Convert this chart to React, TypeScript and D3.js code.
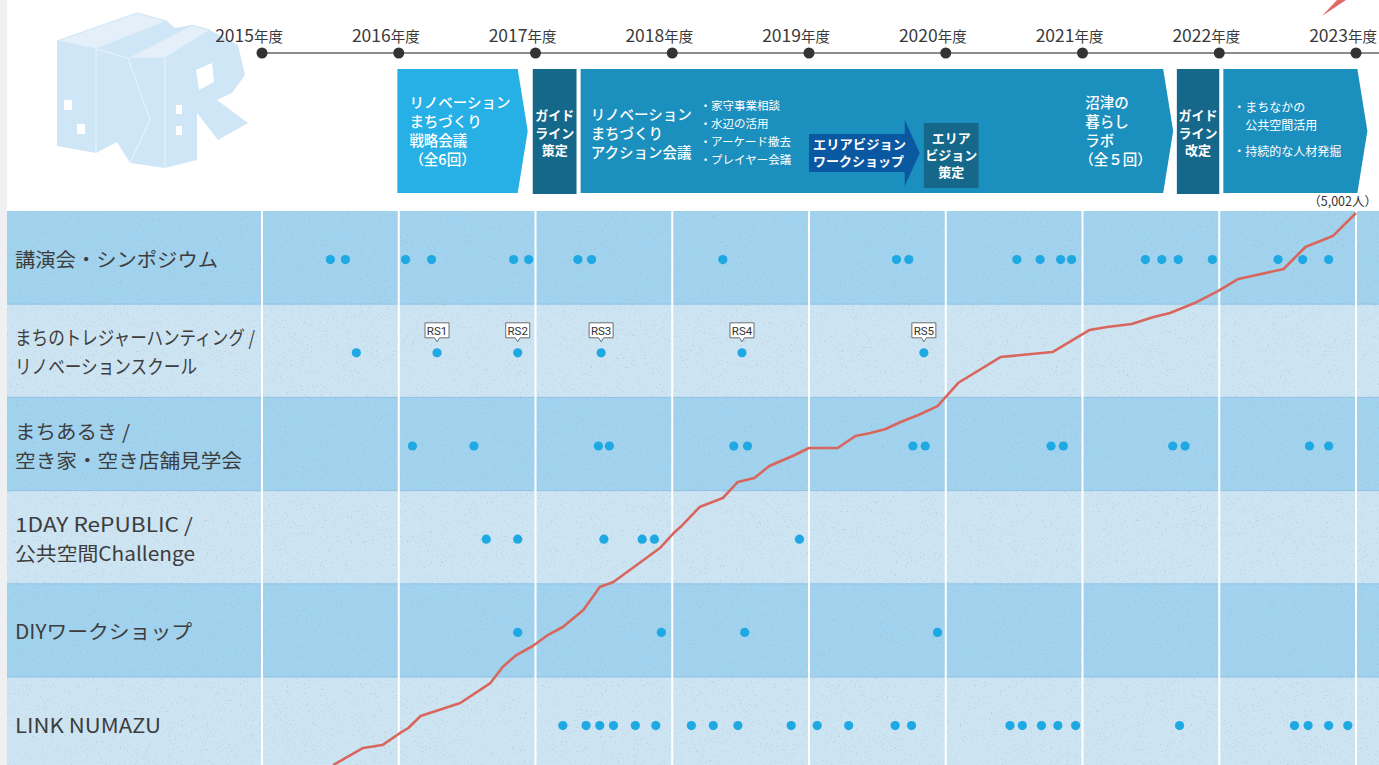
import React from "react";
import * as d3 from "d3";

const W = 1379;
const H = 765;

// ---------- data ----------
const years = [2015, 2016, 2017, 2018, 2019, 2020, 2021, 2022, 2023];
const yearSuffix = "年度";

const categoryLines: string[][] = [
  ["講演会・シンポジウム"],
  ["まちのトレジャーハンティング /", "リノベーションスクール"],
  ["まちあるき /", "空き家・空き店舗見学会"],
  ["1DAY RePUBLIC /", "公共空間Challenge"],
  ["DIYワークショップ"],
  ["LINK NUMAZU"],
];
const categories = categoryLines.map((l) => l.join(""));

// event dates as fractional fiscal years
const lectureEvents = [2015.50, 2015.61, 2016.05, 2016.24, 2016.84, 2016.95, 2017.31, 2017.41, 2018.37, 2019.64, 2019.73, 2020.52, 2020.69, 2020.84, 2020.92, 2021.46, 2021.58, 2021.70, 2021.95, 2022.43, 2022.61, 2022.80];
const schoolEvents = [2015.69, 2016.28, 2016.87, 2017.48, 2018.51, 2019.84];
const schoolTags = ["", "RS1", "RS2", "RS3", "RS4", "RS5"];
const walkEvents = [2016.10, 2016.55, 2017.46, 2017.54, 2018.45, 2018.55, 2019.76, 2019.85, 2020.77, 2020.86, 2021.66, 2021.75, 2022.66, 2022.80];
const republicEvents = [2016.64, 2016.87, 2017.50, 2017.78, 2017.87, 2018.93];
const diyEvents = [2016.87, 2017.92, 2018.53, 2019.94];
const linkEvents = [2017.20, 2017.37, 2017.47, 2017.57, 2017.73, 2017.88, 2018.14, 2018.30, 2018.48, 2018.87, 2019.06, 2019.29, 2019.63, 2019.75, 2020.47, 2020.56, 2020.70, 2020.82, 2020.95, 2021.71, 2022.55, 2022.65, 2022.80, 2022.94];
const eventSeries = [lectureEvents, schoolEvents, walkEvents, republicEvents, diyEvents, linkEvents];

// cumulative participants (red line)
const cumulativeDates = [2015.52, 2015.74, 2015.88, 2016.01, 2016.07, 2016.16, 2016.45, 2016.67, 2016.76, 2016.86, 2016.98, 2017.09, 2017.20, 2017.35, 2017.47, 2017.57, 2017.91, 2018.01, 2018.06, 2018.20, 2018.37, 2018.48, 2018.60, 2018.71, 2018.88, 2019.00, 2019.21, 2019.34, 2019.45, 2019.56, 2019.67, 2019.80, 2019.94, 2020.09, 2020.40, 2020.78, 2021.05, 2021.18, 2021.36, 2021.52, 2021.64, 2021.82, 2021.99, 2022.14, 2022.47, 2022.63, 2022.83, 2023.00];
const cumulativeValues = [667, 801, 824, 919, 958, 1052, 1154, 1311, 1437, 1531, 1602, 1688, 1751, 1885, 2065, 2104, 2371, 2489, 2536, 2693, 2764, 2890, 2921, 3015, 3094, 3157, 3157, 3251, 3274, 3306, 3361, 3416, 3486, 3667, 3871, 3910, 4083, 4107, 4130, 4185, 4217, 4295, 4389, 4484, 4562, 4735, 4821, 5002];
const totalLabel = "（5,002人）";

// phases (header)
const phaseStarts = [2015.99, 2016.98, 2017.33, 2021.69, 2022.03];
const phaseEnds = [2016.87, 2017.30, 2021.59, 2022.00, 2023.01];
const phaseArrow = [true, false, true, false, true];
const phaseKinds = ["bright", "dark", "mid", "dark", "mid"];

const strategyLines = ["リノベーション", "まちづくり", "戦略会議", "（全6回）"];
const guidelineLines = ["ガイド", "ライン", "策定"];
const actionLines = ["リノベーション", "まちづくり", "アクション会議"];
const actionBullets = ["・家守事業相談", "・水辺の活用", "・アーケード撤去", "・プレイヤー会議"];
const workshopLines = ["エリアビジョン", "ワークショップ"];
const visionLines = ["エリア", "ビジョン", "策定"];
const laboLines = ["沼津の", "暮らし", "ラボ", "（全５回）"];
const revisionLines = ["ガイド", "ライン", "改定"];
const futureBullets = ["・まちなかの", "　公共空間活用", "・持続的な人材発掘"];
const workshopSpan = [2019.0, 2019.70, 2019.81];
const visionSpan = [2019.84, 2020.24];

// ---------- component ----------
const FONT = "'Noto Sans CJK JP', 'Noto Sans', sans-serif";
// rendered widths of the row label lines (layout)
const labelWidths: number[][] = [[203], [240, 182], [115, 227], [178, 180], [177], [146]];

export default function App() {
  const x = d3.scaleLinear().domain([2015, 2023]).range([262, 1356]);
  const gridTop = 211;
  const rowH = 93.2;
  const band = d3
    .scaleBand<string>()
    .domain(categories)
    .range([gridTop, gridTop + rowH * categories.length])
    .padding(0);
  const yCum = d3.scaleLinear().domain([0, 5002]).range([850, 213]);

  const line = d3
    .line<number>()
    .x((_, i) => x(cumulativeDates[i]))
    .y((d) => yCum(d));

  const colors: Record<string, string> = {
    bright: "#27b0e6",
    mid: "#1b8fbe",
    dark: "#15688a",
  };
  const top = 69;
  const bottom = 193;
  const mid = (top + bottom) / 2;

  const phasePath = (i: number) => {
    const x0 = x(phaseStarts[i]);
    const x1 = x(phaseEnds[i]);
    if (!phaseArrow[i]) return `M${x0},${top}H${x1}V${bottom + 1}H${x0}Z`;
    return `M${x0},${top}H${x1}L${x1 + 10},${mid}L${x1},${bottom}H${x0}Z`;
  };

  const wsX0 = x(workshopSpan[0]);
  const wsX1 = x(workshopSpan[1]);
  const wsTip = x(workshopSpan[2]);
  const workshopPath = `M${wsX0},134H${wsX1}V120L${wsTip},153L${wsX1},186V172H${wsX0}Z`;

  const dotColor = "#1ea9e2";

  return (
    <svg
      width={W}
      height={H}
      style={{ position: "absolute", left: 0, top: 0, background: "#fff" }}
      fontFamily={FONT}
    >
      <defs>
        <filter id="grain" x="0" y="0" width="100%" height="100%">
          <feTurbulence type="fractalNoise" baseFrequency="0.55" numOctaves="3" seed="7" />
          <feColorMatrix
            type="matrix"
            values="0 0 0 0 0.35  0 0 0 0 0.38  0 0 0 0 0.42  4.5 0 0 0 -2.75"
          />
        </filter>
      </defs>

      {/* left textured strip */}
      <rect x={0} y={0} width={7} height={H} fill="#eef0f1" />
      <rect x={7} y={0} width={W - 7} height={gridTop} fill="#ffffff" />

      {/* logo */}
      <g>
        <path
          d="M57,41L137,13L167,21L175,28L192,25L210,30L238,45L245,75L232,93L217,100L248,123L218,140L197,113L197,160L165,168L130,163L117,142L96,153L57,146Z"
          fill="#cfe6f7"
        />
        <path d="M57,41L137,13L167,21L96,49Z" fill="#e3f0fa" stroke="#cfe6f7" strokeWidth={1} />
        <path d="M128,58L192,25L210,30L165,58Z" fill="#e3f0fa" stroke="#cfe6f7" strokeWidth={1} />
        <path d="M96,49L96,153" stroke="#e6f2fb" strokeWidth={1.2} />
        <path d="M165,58L165,168" stroke="#e6f2fb" strokeWidth={1.2} />
        <path d="M96,49L128,58L150,120L130,163" fill="none" stroke="#e6f2fb" strokeWidth={1.2} />
        <path d="M196,70L212,63L214,82L199,90Z" fill="#ffffff" />
        <rect x={64} y={100} width={8} height={10} fill="#ffffff" />
        <rect x={77} y={124} width={8} height={10} fill="#ffffff" />
        <rect x={176} y={105} width={6} height={9} fill="#ffffff" />
        <rect x={176} y={126} width={6} height={9} fill="#ffffff" />
      </g>

      {/* rows */}
      {categories.map((c, i) => (
        <rect
          key={c}
          x={7}
          y={band(c)}
          width={W - 7}
          height={band.bandwidth()}
          fill={i % 2 === 0 ? "#a1d2ee" : "#cde4f3"}
        />
      ))}
      {categories.slice(1).map((c) => (
        <line key={c} x1={7} x2={W} y1={band(c)} y2={band(c)} stroke="#8cc3e6" strokeWidth={1} />
      ))}
      <rect x={7} y={gridTop} width={W - 7} height={H - gridTop} filter="url(#grain)" opacity={0.35} />

      {/* year grid lines */}
      {years.map((yr) => (
        <line key={yr} x1={x(yr)} x2={x(yr)} y1={gridTop} y2={H} stroke="#ffffff" strokeWidth={2} />
      ))}

      {/* row labels */}
      {categoryLines.map((lines, i) => {
        const cy = band(categories[i])! + band.bandwidth() / 2 + 2;
        const lh = 29;
        return (
          <g key={i}>
            {lines.map((t, j) => (
              <text
                key={j}
                x={15}
                y={cy + 7 + (j - (lines.length - 1) / 2) * lh}
                fontSize={19.5}
                fill="#3d3d3d"
                textLength={labelWidths[i][j]}
                lengthAdjust="spacingAndGlyphs"
              >
                {t}
              </text>
            ))}
          </g>
        );
      })}

      {/* cumulative line */}
      <path d={line(cumulativeValues) || ""} fill="none" stroke="#d9665d" strokeWidth={2.6} strokeLinejoin="round" />

      {/* event dots */}
      {eventSeries.map((evs, i) => {
        const cy = band(categories[i])! + band.bandwidth() / 2 + 2;
        return (
          <g key={i}>
            {evs.map((d, j) => (
              <circle key={j} cx={x(d)} cy={cy} r={4.6} fill={dotColor} />
            ))}
          </g>
        );
      })}

      {/* RS tags */}
      {schoolEvents.map((d, j) => {
        const tag = schoolTags[j];
        if (!tag) return null;
        const cx = x(d);
        const cy = band(categories[1])! + band.bandwidth() / 2 + 2;
        const bw = 24;
        const bh = 15;
        const by = cy - 30;
        return (
          <g key={j}>
            <path
              d={`M${cx - bw / 2},${by}H${cx + bw / 2}V${by + bh}H${cx + 2.5}L${cx},${by + bh + 4}L${cx - 2.5},${by + bh}H${cx - bw / 2}Z`}
              fill="#ffffff"
              stroke="#6d6d6d"
              strokeWidth={1}
            />
            <text x={cx} y={by + 12} fontSize={11.5} textAnchor="middle" fill="#333" fontFamily="'Liberation Sans Narrow', 'Roboto', sans-serif">
              {tag}
            </text>
          </g>
        );
      })}

      <text x={1377} y={206} fontSize={12.5} textAnchor="end" fill="#333">
        {totalLabel}
      </text>

      {/* header timeline */}
      <line x1={x(2015)} x2={W} y1={53} y2={53} stroke="#666" strokeWidth={1.6} />
      {years.map((yr) => (
        <g key={yr}>
          <circle cx={x(yr)} cy={53} r={5.5} fill="#333" />
          <text x={x(yr) + 21} y={42} textAnchor="end" fill="#3a3a3a">
            <tspan fontSize={17.5}>{yr}</tspan>
            <tspan fontSize={14.5}>{yearSuffix}</tspan>
          </text>
        </g>
      ))}

      {/* red arrow tip at top right */}
      <path d="M1322,16L1337,0H1346Z" fill="#e06a68" />

      {/* phases */}
      {phaseStarts.map((_, i) => (
        <path key={i} d={phasePath(i)} fill={colors[phaseKinds[i]]} />
      ))}

      <g fill="#ffffff">
        <text fontSize={14.5} fontWeight={500}>
          {strategyLines.map((t, j) => (
            <tspan key={j} x={x(phaseStarts[0]) + 12} y={108 + j * 19}>{t}</tspan>
          ))}
        </text>
        <text fontSize={13} fontWeight={700} textAnchor="middle">
          {guidelineLines.map((t, j) => (
            <tspan key={j} x={(x(phaseStarts[1]) + x(phaseEnds[1])) / 2} y={120 + j * 17.5}>{t}</tspan>
          ))}
        </text>
        <text fontSize={14.5} fontWeight={500}>
          {actionLines.map((t, j) => (
            <tspan key={j} x={x(phaseStarts[2]) + 10} y={120 + j * 19}>{t}</tspan>
          ))}
        </text>
        <text fontSize={11.5}>
          {actionBullets.map((t, j) => (
            <tspan key={j} x={x(phaseStarts[2]) + 119} y={110 + j * 18}>{t}</tspan>
          ))}
        </text>
        <text fontSize={14.5} fontWeight={500}>
          {laboLines.map((t, j) => (
            <tspan key={j} x={x(phaseEnds[2]) - 78 + (j === 3 ? -6 : 0)} y={108 + j * 19}>{t}</tspan>
          ))}
        </text>
        <text fontSize={13} fontWeight={700} textAnchor="middle">
          {revisionLines.map((t, j) => (
            <tspan key={j} x={(x(phaseStarts[3]) + x(phaseEnds[3])) / 2} y={120 + j * 17.5}>{t}</tspan>
          ))}
        </text>
        <text fontSize={12}>
          {futureBullets.map((t, j) => (
            <tspan key={j} x={x(phaseStarts[4]) + 10} y={112 + j * 18 + (j === 2 ? 8 : 0)}>{t}</tspan>
          ))}
        </text>
      </g>

      {/* area vision workshop arrow + vision box */}
      <path d={workshopPath} fill="#0b58a2" />
      <g fill="#fff" fontWeight={700}>
        <text x={wsX0 + 4} y={149} fontSize={12.8} textLength={93} lengthAdjust="spacingAndGlyphs">
          {workshopLines[0]}
        </text>
        <text x={wsX0 + 4} y={166} fontSize={12.8} textLength={91} lengthAdjust="spacingAndGlyphs">
          {workshopLines[1]}
        </text>
      </g>
      <rect x={x(visionSpan[0])} y={123} width={x(visionSpan[1]) - x(visionSpan[0])} height={65} fill="#15688a" />
      <text fontSize={13} fontWeight={700} fill="#fff" textAnchor="middle">
        {visionLines.map((t, j) => (
          <tspan key={j} x={(x(visionSpan[0]) + x(visionSpan[1])) / 2} y={143 + j * 17}>{t}</tspan>
        ))}
      </text>
    </svg>
  );
}
